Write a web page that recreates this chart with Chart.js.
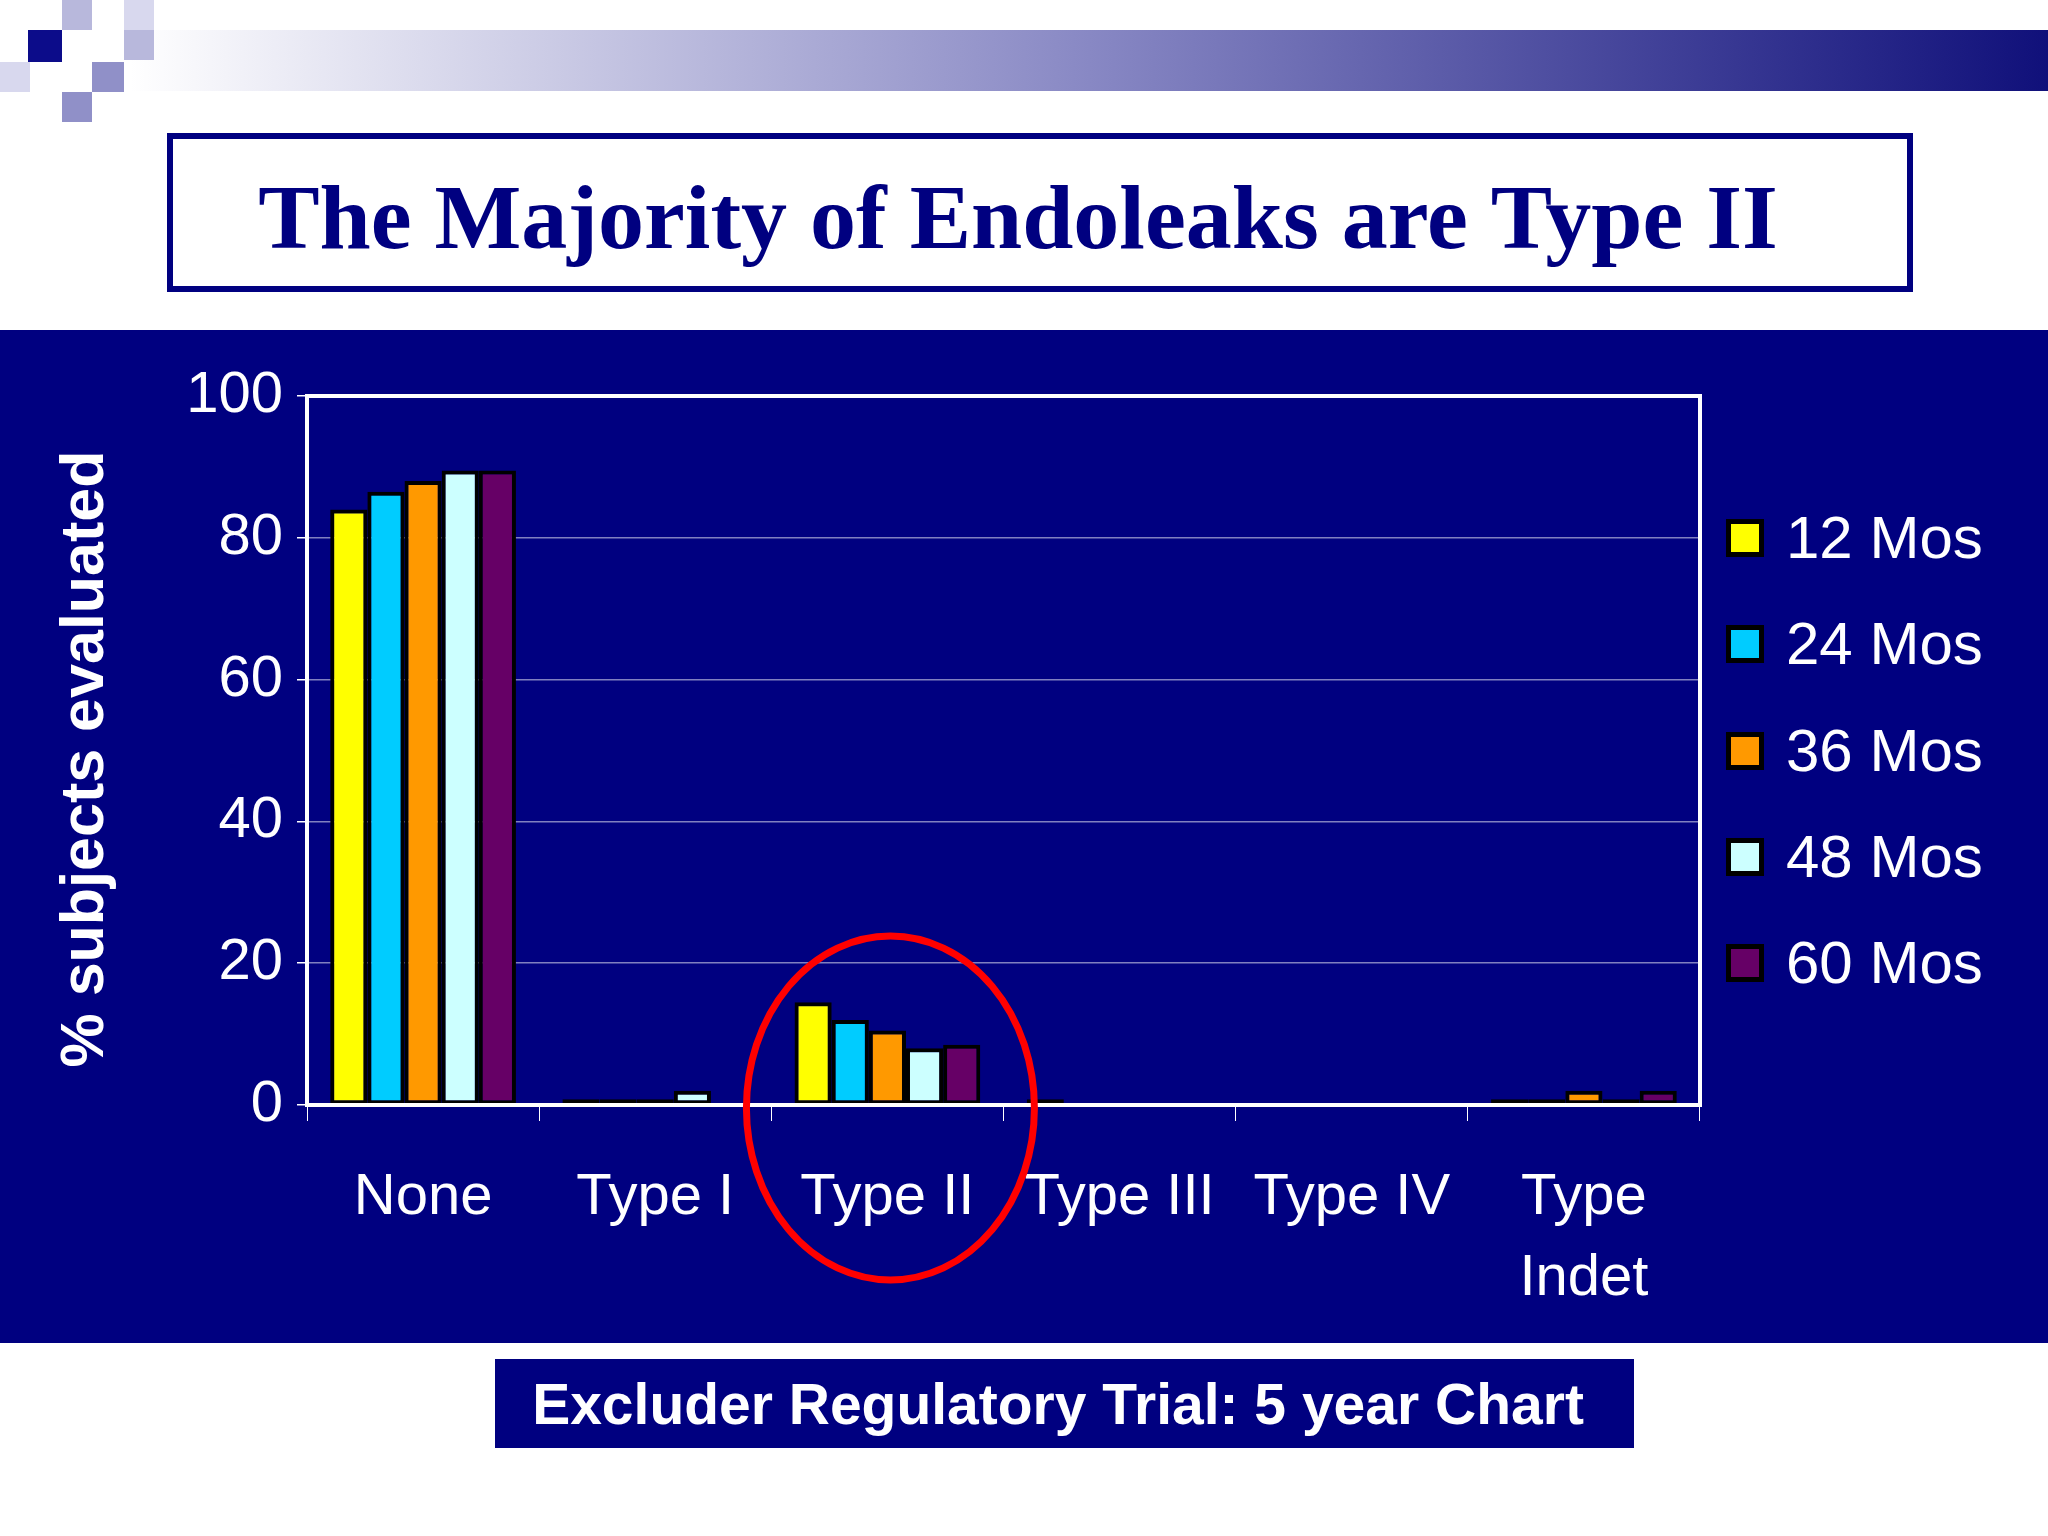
<!DOCTYPE html>
<html><head><meta charset="utf-8">
<script src="https://cdn.jsdelivr.net/npm/chart.js@4/dist/chart.umd.min.js"></script>
<style>html,body{margin:0;padding:0;background:#fff}canvas{display:block}</style>
</head><body>
<canvas id="c" width="2048" height="1536" style="width:2048px;height:1536px"></canvas>
<script>
const categories = ['None', 'Type I', 'Type II', 'Type III', 'Type IV', ['Type', 'Indet']];
const seriesNames = ['12 Mos', '24 Mos', '36 Mos', '48 Mos', '60 Mos'];
const mos12 = [84, 0.8, 14.5, 0.8, 0, 0.8];
const mos24 = [86.5, 0.8, 12, 0, 0, 0.8];
const mos36 = [88, 0.8, 10.5, 0, 0, 2];
const mos48 = [89.5, 2, 8, 0, 0, 0.8];
const mos60 = [89.5, 0, 8.5, 0, 0, 2];
const yTicks = [0, 20, 40, 60, 80, 100];
const colors = ['#ffff00', '#00ccff', '#ff9900', '#ccffff', '#660066'];
const titleText = 'The Majority of Endoleaks are Type II';
const footerText = 'Excluder Regulatory Trial: 5 year Chart';
const yTitle = '% subjects evaluated';
const NAVY = '#000080';

const deco = {
  id: 'deco',
  beforeDraw(chart) {
    const ctx = chart.ctx;
    ctx.save();
    ctx.fillStyle = '#fff'; ctx.fillRect(0, 0, 2048, 1536);
    const g = ctx.createLinearGradient(130, 0, 2048, 0);
    g.addColorStop(0, '#ffffff'); g.addColorStop(0.5, '#8888c4'); g.addColorStop(1, '#10107a');
    ctx.fillStyle = g; ctx.fillRect(130, 30, 1918, 61);
    ctx.fillStyle = '#0c0c8a'; ctx.fillRect(28, 30, 34, 32);
    ctx.fillStyle = '#b8b8dc'; ctx.fillRect(62, 0, 30, 30); ctx.fillRect(124, 30, 30, 30);
    ctx.fillStyle = '#9090c8'; ctx.fillRect(92, 62, 32, 30); ctx.fillRect(62, 92, 30, 30);
    ctx.fillStyle = '#d8d8ee'; ctx.fillRect(124, 0, 30, 30); ctx.fillRect(0, 62, 30, 30);
    ctx.strokeStyle = NAVY; ctx.lineWidth = 6;
    ctx.strokeRect(170, 136, 1740, 153);
    ctx.fillStyle = NAVY; ctx.font = 'bold 92px "Liberation Serif", "DejaVu Serif", serif';
    ctx.textAlign = 'center'; ctx.textBaseline = 'middle';
    ctx.fillText(titleText, 1018, 224);
    ctx.fillStyle = NAVY; ctx.fillRect(0, 330, 2048, 1013);
    ctx.fillRect(495, 1359, 1139, 89);
    ctx.fillStyle = '#fff'; ctx.font = 'bold 57px "Liberation Sans", Arial, sans-serif';
    ctx.fillText(footerText, 1058, 1408);
    ctx.save(); ctx.translate(86, 759); ctx.rotate(-Math.PI / 2);
    ctx.font = 'bold 61px "Liberation Sans", Arial, sans-serif';
    ctx.fillText(yTitle, 0, 0); ctx.restore();
    ctx.textAlign = 'left';
    ctx.font = '60px "Liberation Sans", Arial, sans-serif';
    const ly = [538, 644, 751, 857, 963];
    seriesNames.forEach((n, i) => {
      ctx.fillStyle = '#000'; ctx.fillRect(1726, ly[i] - 19, 38, 38);
      ctx.fillStyle = colors[i]; ctx.fillRect(1731, ly[i] - 14, 28, 28);
      ctx.fillStyle = '#fff'; ctx.fillText(n, 1786, ly[i] + 3);
    });
    ctx.restore();
  },
  afterDraw(chart) {
    const ctx = chart.ctx, a = chart.chartArea;
    ctx.save();
    ctx.strokeStyle = '#fff'; ctx.lineWidth = 4;
    ctx.strokeRect(a.left, a.top, a.right - a.left, a.bottom - a.top);
    const x = chart.scales.x.getPixelForValue(2), y = chart.scales.y.getPixelForValue(0);
    ctx.strokeStyle = '#ff0000'; ctx.lineWidth = 7;
    ctx.beginPath(); ctx.ellipse(x + 3, y + 3, 144, 172, 0, 0, Math.PI * 2); ctx.stroke();
    ctx.restore();
  }
};

const data = [mos12, mos24, mos36, mos48, mos60];
new Chart(document.getElementById('c'), {
  type: 'bar',
  data: {
    labels: categories,
    datasets: seriesNames.map((n, i) => ({
      label: n, data: data[i], backgroundColor: colors[i],
      borderColor: '#000', borderWidth: 4, borderSkipped: false
    }))
  },
  options: {
    responsive: false, animation: false, devicePixelRatio: 1,
    layout: { padding: { left: 0, right: 348, top: 396, bottom: 0 } },
    plugins: { legend: { display: false }, tooltip: { enabled: false } },
    datasets: { bar: { categoryPercentage: 0.8, barPercentage: 1.0 } },
    scales: {
      y: {
        min: 0, max: 100, afterBuildTicks: s => { s.ticks = yTicks.map(v => ({ value: v })); },
        grid: { color: '#8080c0', lineWidth: 1.5, drawTicks: true, tickLength: 10, tickColor: '#fff' },
        border: { display: false },
        ticks: { color: '#fff', font: { size: 58, family: '"Liberation Sans", Arial, sans-serif' }, padding: 14 },
        afterFit: s => { s.width = 307; }
      },
      x: {
        grid: { display: true, drawOnChartArea: false, color: '#fff', tickLength: 16, offset: true },
        border: { display: false },
        ticks: { color: '#fff', font: { size: 58, family: '"Liberation Sans", Arial, sans-serif', lineHeight: 1.4 }, padding: 36, maxRotation: 0, autoSkip: false },
        afterFit: s => { s.height = 1536 - 1105; }
      }
    }
  },
  plugins: [deco]
});
</script>
</body></html>
